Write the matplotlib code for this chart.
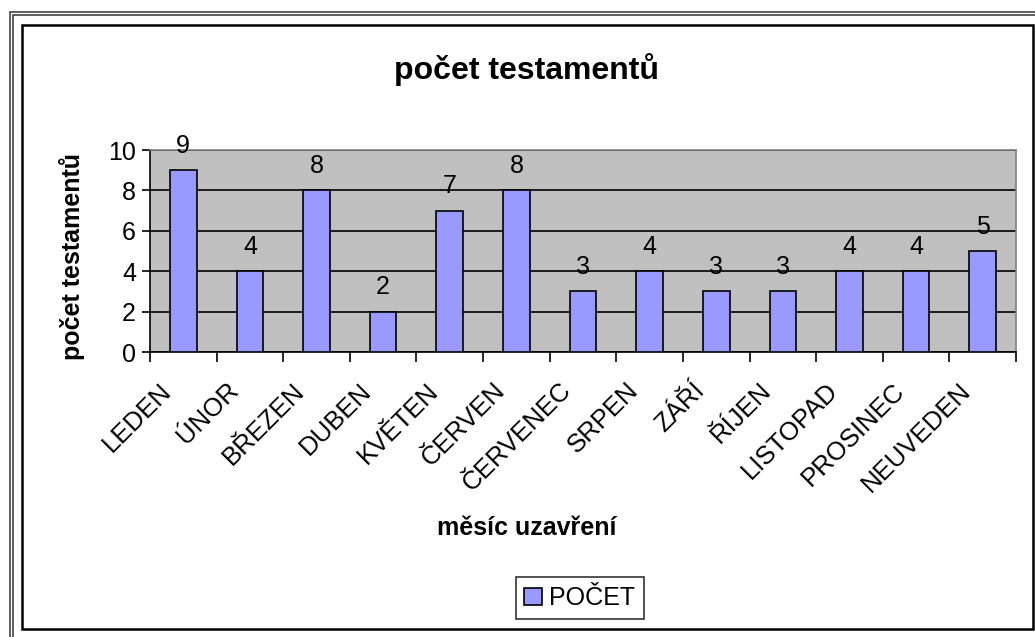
import matplotlib.pyplot as plt
from matplotlib.patches import Rectangle
from matplotlib.transforms import ScaledTranslation
import numpy as np

plt.rcParams['font.family'] = ['Liberation Sans', 'DejaVu Sans']

# data
mesice = ["LEDEN", "ÚNOR", "BŘEZEN", "DUBEN", "KVĚTEN", "ČERVEN", "ČERVENEC",
          "SRPEN", "ZÁŘÍ", "ŘÍJEN", "LISTOPAD", "PROSINEC", "NEUVEDEN"]
pocet = [9, 4, 8, 2, 7, 8, 3, 4, 3, 3, 4, 4, 5]
y_ticks = [0, 2, 4, 6, 8, 10]

W, H = 1035, 637
fig = plt.figure(figsize=(W / 100, H / 100), dpi=100)
fig.patch.set_facecolor("white")

# outer double frame and inner chart frame (pixel coords -> figure fraction)
def px_rect(x0, y0, x1, y1, **kw):
    r = Rectangle((x0 / W, 1 - y1 / H), (x1 - x0) / W, (y1 - y0) / H,
                  transform=fig.transFigure, fill=False, **kw)
    fig.patches.append(r)

px_rect(10, 12, 1060, 660, edgecolor="#444444", linewidth=1.2)
px_rect(13, 15, 1057, 657, edgecolor="#444444", linewidth=1.2)
px_rect(22, 25, 1033, 629, edgecolor="black", linewidth=1.8)

ax = fig.add_axes([150 / W, 1 - 352 / H, (1016 - 150) / W, (352 - 150) / H])
ax.set_facecolor("#c0c0c0")

x = np.arange(len(mesice))
bars = ax.bar(x, pocet, width=0.4, color="#9999ff", edgecolor="black",
              linewidth=1.2, label="POČET", zorder=3)
ax.bar_label(bars, labels=[str(v) for v in pocet], padding=9, fontsize=18)

ax.set_xlim(-0.5, len(mesice) - 0.5)
ax.set_ylim(0, 10)
ax.set_yticks(y_ticks)
ax.yaxis.grid(True, color="black", linewidth=1.2, zorder=0)
ax.set_axisbelow(True)
ax.tick_params(axis="y", labelsize=18, direction="out", length=6, width=1.2, pad=4)

ax.set_xticks(x)
ax.set_xticklabels(mesice, rotation=45, ha="right", va="top",
                   rotation_mode="anchor", fontsize=18.5)
ax.tick_params(axis="x", which="major", length=0, pad=19)
ax.set_xticks(np.arange(len(mesice) + 1) - 0.5, minor=True)
ax.tick_params(axis="x", which="minor", direction="out", length=7, width=1.2)
shift = ScaledTranslation(-24 / 100, 0, fig.dpi_scale_trans)
for lab in ax.get_xticklabels():
    lab.set_transform(lab.get_transform() + shift)

for side in ["left", "bottom"]:
    ax.spines[side].set_color("black")
    ax.spines[side].set_linewidth(1.2)
for side in ["top", "right"]:
    ax.spines[side].set_color("#808080")
    ax.spines[side].set_linewidth(1.2)

fig.text(527 / W, 1 - 70 / H, "počet testamentů", ha="center", va="center",
         fontsize=23, fontweight="bold")
fig.text(72 / W, 1 - 256 / H, "počet testamentů", ha="center", va="center",
         rotation=90, fontsize=18, fontweight="bold")
fig.text(527 / W, 1 - 528 / H, "měsíc uzavření", ha="center", va="center",
         fontsize=18, fontweight="bold")

leg = fig.legend(handles=[bars], labels=["POČET"], loc="center",
                 bbox_to_anchor=(580 / W, 1 - 598 / H), fontsize=18,
                 fancybox=False, frameon=True, handlelength=0.7,
                 handleheight=0.7, handletextpad=0.3, borderpad=0.35,
                 borderaxespad=0)
leg.get_frame().set_edgecolor("black")
leg.get_frame().set_linewidth(1.2)

fig.savefig("out.png", dpi=100, facecolor="white")
